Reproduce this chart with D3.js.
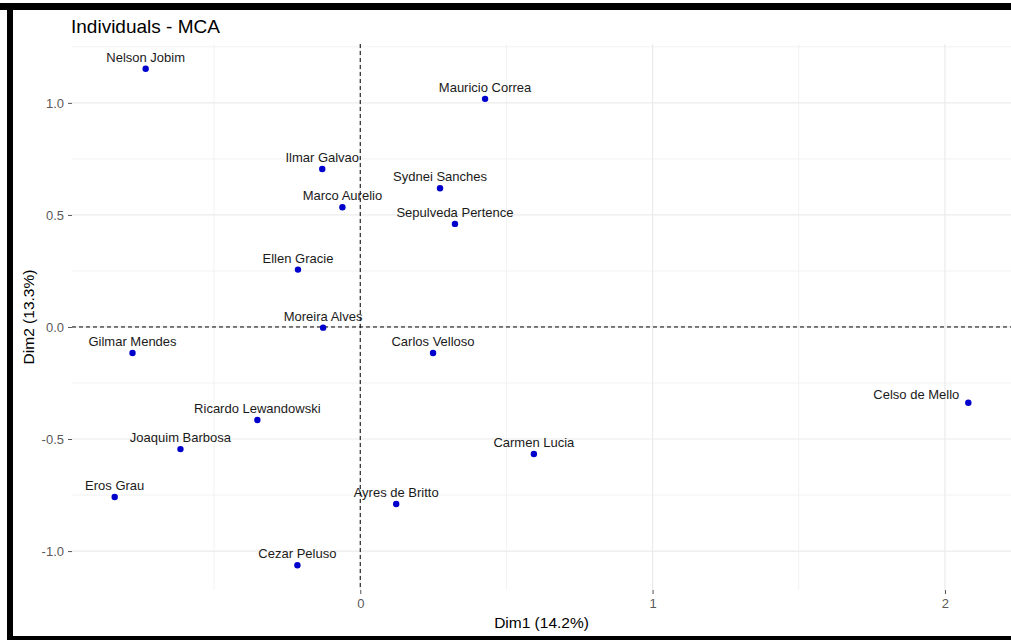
<!DOCTYPE html>
<html><head><meta charset="utf-8">
<script src="https://cdn.jsdelivr.net/npm/d3@7"></script>
<style>
html,body{margin:0;padding:0;background:#fff;}
svg{display:block;font-family:"Liberation Sans",Arial,sans-serif;}
</style></head>
<body>
<svg id="chart" width="1011" height="640"></svg>
<script>
const names = ["Nelson Jobim","Mauricio Correa","Ilmar Galvao","Sydnei Sanches","Marco Aurelio","Sepulveda Pertence","Ellen Gracie","Moreira Alves","Gilmar Mendes","Carlos Velloso","Celso de Mello","Ricardo Lewandowski","Joaquim Barbosa","Carmen Lucia","Eros Grau","Ayres de Britto","Cezar Peluso"];
const dim1 = [-0.734,0.427,-0.130,0.273,-0.061,0.324,-0.213,-0.127,-0.779,0.249,2.080,-0.352,-0.615,0.594,-0.840,0.123,-0.215];
const dim2 = [1.152,1.018,0.705,0.619,0.534,0.460,0.256,-0.003,-0.116,-0.116,-0.338,-0.415,-0.545,-0.567,-0.759,-0.790,-1.063];
const xTicks = [0,1,2];
const xTickLabels = ["0","1","2"];
const yTicks = [-1.0,-0.5,0.0,0.5,1.0];
const yTickLabels = ["-1.0","-0.5","0.0","0.5","1.0"];
const xMinor = [-0.5,0.5,1.5];
const yMinor = [-0.75,-0.25,0.25,0.75,1.25];
const title = "Individuals - MCA";
const xTitle = "Dim1 (14.2%)";
const yTitle = "Dim2 (13.3%)";

const svg = d3.select("#chart");
const W = 1011, H = 640;
const P = {left:72, right:1011, top:44, bottom:590};

function expand(ext){const r=ext[1]-ext[0];return [ext[0]-0.05*r, ext[1]+0.05*r];}
const x = d3.scaleLinear().domain(expand(d3.extent(dim1))).range([P.left,P.right]);
const y = d3.scaleLinear().domain(expand(d3.extent(dim2))).range([P.bottom,P.top]);

// frame bands
svg.append("rect").attr("x",0).attr("y",3).attr("width",W).attr("height",7).attr("fill","#000");
svg.append("rect").attr("x",7).attr("y",3).attr("width",6).attr("height",H).attr("fill","#000");
svg.append("rect").attr("x",7).attr("y",636).attr("width",W).attr("height",4).attr("fill","#000");

const g = svg.append("g");
// minor grid
g.selectAll(".vmin").data(xMinor.filter(v=>x(v)>=P.left&&x(v)<=P.right)).enter().append("line")
 .attr("x1",d=>x(d)).attr("x2",d=>x(d)).attr("y1",P.top).attr("y2",P.bottom)
 .attr("stroke","#f2f2f2").attr("stroke-width",1);
g.selectAll(".hmin").data(yMinor.filter(v=>y(v)>=P.top&&y(v)<=P.bottom)).enter().append("line")
 .attr("x1",P.left).attr("x2",P.right).attr("y1",d=>y(d)).attr("y2",d=>y(d))
 .attr("stroke","#f2f2f2").attr("stroke-width",1);
// major grid
g.selectAll(".vmaj").data(xTicks).enter().append("line")
 .attr("x1",d=>x(d)).attr("x2",d=>x(d)).attr("y1",P.top).attr("y2",P.bottom)
 .attr("stroke","#ebebeb").attr("stroke-width",1.2);
g.selectAll(".hmaj").data(yTicks).enter().append("line")
 .attr("x1",P.left).attr("x2",P.right).attr("y1",d=>y(d)).attr("y2",d=>y(d))
 .attr("stroke","#ebebeb").attr("stroke-width",1.2);

// axes
const xAxis = d3.axisBottom(x).tickValues(xTicks).tickFormat((d,i)=>xTickLabels[i]).tickSize(4).tickPadding(5);
const yAxis = d3.axisLeft(y).tickValues(yTicks).tickFormat((d,i)=>yTickLabels[i]).tickSize(4).tickPadding(4);
const gx = svg.append("g").attr("transform",`translate(0,${P.bottom})`).call(xAxis);
const gy = svg.append("g").attr("transform",`translate(${P.left},0)`).call(yAxis);
[gx,gy].forEach(a=>{
  a.select(".domain").remove();
  a.selectAll(".tick line").attr("stroke","#555").attr("stroke-width",1);
  a.selectAll(".tick text").attr("fill","#5a5a5a").style("font-size","13px").style("font-family","'Liberation Sans',Arial,sans-serif");
});

// dashed reference lines
svg.append("line").attr("x1",x(0)).attr("x2",x(0)).attr("y1",P.top).attr("y2",P.bottom)
 .attr("stroke","#000").attr("stroke-width",1).attr("stroke-dasharray","4,3");
svg.append("line").attr("x1",P.left).attr("x2",P.right).attr("y1",y(0)).attr("y2",y(0))
 .attr("stroke","#000").attr("stroke-width",1).attr("stroke-dasharray","4,3");

// points
const pts = names.map((n,i)=>({name:n, a:dim1[i], b:dim2[i]}));
svg.selectAll(".pt").data(pts).enter().append("circle")
 .attr("cx",d=>x(d.a)).attr("cy",d=>y(d.b)).attr("r",3.2).attr("fill","#0000cd");

// labels (above point, or to the left if near right panel edge)
const lab = svg.selectAll(".lab").data(pts).enter().append("text")
 .text(d=>d.name).style("font-size","13px").attr("fill","#1a1a1a");
lab.each(function(d){
  const t=d3.select(this);
  const w=this.getComputedTextLength();
  const px=x(d.a), py=y(d.b);
  if(px + w/2 > P.right - 30){
    t.attr("x",px-9).attr("y",py-4).attr("text-anchor","end");
  } else {
    t.attr("x",px).attr("y",py-7).attr("text-anchor","middle");
  }
});

// titles
svg.append("text").attr("x",71).attr("y",33).text(title).style("font-size","19px").attr("fill","#000");
svg.append("text").attr("x",(P.left+P.right)/2).attr("y",628).attr("text-anchor","middle")
 .text(xTitle).style("font-size","15.5px").attr("fill","#000");
svg.append("text").attr("transform",`translate(34,${(P.top+P.bottom)/2}) rotate(-90)`).attr("text-anchor","middle")
 .text(yTitle).style("font-size","15.5px").attr("fill","#000");
</script>
</body></html>
